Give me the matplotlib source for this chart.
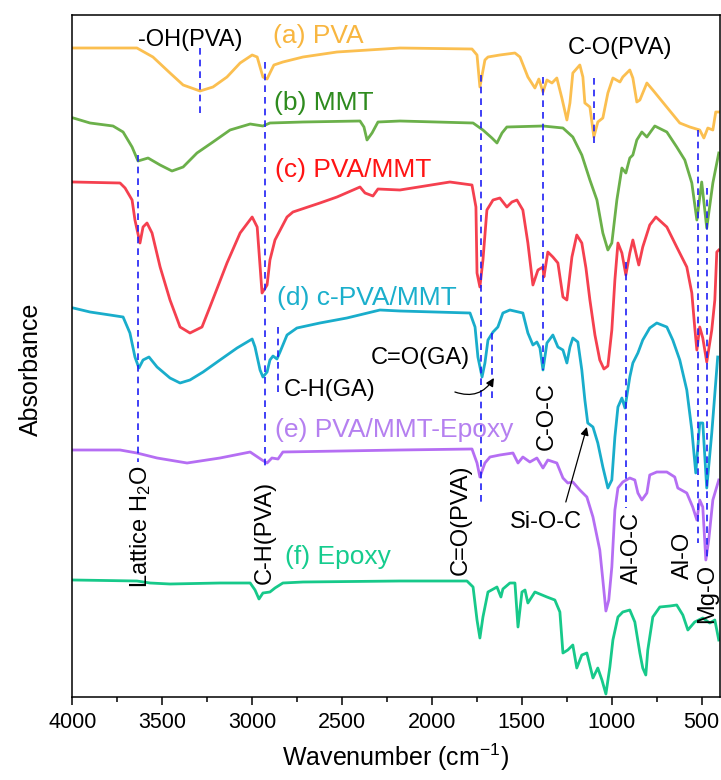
"""
FTIR absorbance spectra of PVA, MMT and their composites (stacked, offset).
"""

import matplotlib
matplotlib.use("Agg")
import matplotlib.pyplot as plt

# ---------------------------------------------------------------------------
# Data (wavenumber in cm-1, absorbance in offset a.u.)
# ---------------------------------------------------------------------------

pva_wn = [3995, 3641, 3552, 3457, 3384, 3290, 3218, 3140, 3067, 3000, 2972, 2956, 2940,
          2917, 2901, 2879, 2829, 2717, 2528, 2178, 1777, 1749, 1733, 1705, 1688, 1622,
          1538, 1510, 1466, 1427, 1405, 1382, 1360, 1332, 1305, 1277, 1249, 1232, 1216,
          1177, 1160, 1149, 1121, 1099, 1077, 1049, 1021, 993, 954, 938, 899, 882, 860,
          843, 804, 771, 621, 565, 510, 487, 465, 437, 421, 404]
pva_abs = [6.49, 6.49, 6.40, 6.24, 6.12, 6.06, 6.10, 6.20, 6.34, 6.42, 6.40, 6.30, 6.20,
           6.18, 6.24, 6.32, 6.35, 6.40, 6.45, 6.49, 6.48, 6.42, 6.10, 6.37, 6.40, 6.42,
           6.44, 6.40, 6.20, 6.09, 6.18, 6.05, 6.17, 6.14, 6.19, 5.99, 5.77, 5.94, 6.24,
           6.32, 6.20, 5.94, 5.90, 5.60, 5.75, 5.79, 6.04, 6.19, 6.15, 6.20, 6.27, 6.19, 5.95,
           5.97, 6.14, 6.07, 5.74, 5.70, 5.67, 5.59, 5.69, 5.67, 5.85, 5.85]

mmt_wn = [3995, 3902, 3774, 3718, 3668, 3635, 3579, 3512, 3446, 3384, 3307, 3218, 3123,
          3011, 2940, 2901, 2717, 2400, 2378, 2361, 2333, 2300, 2178, 1771, 1716, 1666,
          1638, 1610, 1583, 1382, 1271, 1216, 1166, 1121, 1082, 1049, 1021, 999, 971, 943,
          921, 899, 882, 860, 832, 804, 760, 693, 638, 593, 554, 526, 499, 471, 437, 404]
mmt_abs = [5.79, 5.74, 5.71, 5.65, 5.50, 5.36, 5.39, 5.32, 5.26, 5.30, 5.44, 5.55, 5.67,
           5.73, 5.71, 5.74, 5.75, 5.76, 5.70, 5.57, 5.64, 5.75, 5.76, 5.74, 5.67, 5.59,
           5.54, 5.64, 5.70, 5.71, 5.69, 5.60, 5.42, 5.17, 4.97, 4.64, 4.47, 4.54, 4.97, 5.29,
           5.24, 5.39, 5.42, 5.57, 5.65, 5.60, 5.71, 5.65, 5.50, 5.37, 5.14, 4.77, 5.15, 4.69,
           5.14, 5.44]

pva_mmt_wn = [3995, 3735, 3707, 3668, 3652, 3624, 3607, 3585, 3557, 3512, 3457, 3401, 3346,
              3279, 3235, 3140, 3067, 3000, 2972, 2945, 2917, 2901, 2873, 2806, 2773, 2623,
              2528, 2400, 2372, 2328, 2300, 2178, 1900, 1777, 1755, 1749, 1733, 1716, 1694,
              1660, 1622, 1583, 1555, 1527, 1494, 1466, 1438, 1410, 1382, 1377, 1355, 1327,
              1299, 1271, 1249, 1221, 1194, 1166, 1143, 1121, 1093, 1066, 1043, 1021, 999,
              982, 965, 943, 921, 899, 882, 860, 849, 827, 788, 754, 693, 638, 582, 554, 538,
              526, 510, 493, 471, 443, 426, 415, 404]
pva_mmt_abs = [5.15, 5.14, 5.09, 4.97, 4.77, 4.54, 4.70, 4.74, 4.64, 4.30, 3.97, 3.70, 3.64,
               3.70, 3.90, 4.34, 4.64, 4.80, 4.70, 4.04, 4.12, 4.37, 4.57, 4.80, 4.85, 4.94,
               5.00, 5.10, 5.04, 5.01, 5.08, 5.07, 5.15, 5.12, 4.90, 4.24, 4.10, 4.37, 4.87,
               4.97, 4.99, 4.90, 4.95, 4.97, 4.87, 4.54, 4.12, 4.27, 4.30, 4.20, 4.45, 4.40,
               4.34, 4.00, 3.97, 4.40, 4.62, 4.54, 4.29, 3.97, 3.62, 3.37, 3.28, 3.31, 3.67,
               4.17, 4.54, 4.44, 4.22, 4.44, 4.57, 4.40, 4.32, 4.50, 4.72, 4.80, 4.70, 4.50,
               4.30, 4.04, 3.70, 3.47, 3.70, 3.59, 3.35, 3.67, 3.97, 4.45, 4.47]

cpva_mmt_wn = [3995, 3902, 3791, 3718, 3680, 3652, 3630, 3607, 3574, 3529, 3457, 3401, 3346,
               3273, 3179, 3084, 3000, 2984, 2956, 2940, 2917, 2901, 2884, 2862, 2845, 2806,
               2751, 2623, 2473, 2289, 2178, 1788, 1760, 1744, 1721, 1705, 1688, 1660, 1633,
               1605, 1566, 1494, 1466, 1438, 1416, 1399, 1382, 1360, 1327, 1299, 1271, 1249,
               1232, 1216, 1188, 1166, 1149, 1133, 1104, 1077, 1049, 1021, 999, 982, 965, 943,
               926, 899, 882, 854, 827, 788, 749, 693, 660, 621, 582, 554, 532, 510, 493, 471,
               443, 410]
cpva_mmt_abs = [3.89, 3.85, 3.82, 3.80, 3.64, 3.40, 3.29, 3.37, 3.40, 3.30, 3.19, 3.14, 3.17,
                3.25, 3.37, 3.49, 3.58, 3.50, 3.27, 3.20, 3.25, 3.37, 3.41, 3.38, 3.45, 3.62,
                3.69, 3.74, 3.79, 3.87, 3.86, 3.84, 3.70, 3.40, 3.20, 3.34, 3.57, 3.65, 3.70,
                3.84, 3.87, 3.84, 3.64, 3.52, 3.55, 3.49, 3.27, 3.54, 3.62, 3.50, 3.47, 3.34,
                3.50, 3.59, 3.55, 3.27, 2.97, 2.74, 2.70, 2.54, 2.30, 2.09, 2.17, 2.60, 2.90, 2.99,
                2.89, 3.20, 3.34, 3.44, 3.57, 3.69, 3.74, 3.70, 3.57, 3.37, 3.07, 2.67, 2.24,
                2.74, 2.74, 2.09, 2.64, 3.40]

epoxy_comp_wn = [3995, 3735, 3641, 3529, 3362, 3179, 3011, 2945, 2917, 2890, 2856, 2829,
                 2178, 1777, 1749, 1733, 1705, 1677, 1622, 1549, 1521, 1494, 1455, 1416, 1382,
                 1355, 1305, 1271, 1244, 1216, 1177, 1138, 1104, 1066, 1049, 1032, 1016, 999,
                 982, 965, 938, 899, 871, 854, 832, 804, 788, 749, 693, 649, 632, 582, 549, 526,
                 510, 493, 476, 460, 437, 404]
epoxy_comp_abs = [2.47, 2.47, 2.44, 2.39, 2.34, 2.39, 2.45, 2.37, 2.34, 2.39, 2.38, 2.45,
                  2.47, 2.48, 2.34, 2.20, 2.34, 2.40, 2.42, 2.44, 2.34, 2.40, 2.35, 2.39, 2.29,
                  2.37, 2.34, 2.19, 2.14, 2.15, 2.07, 2.00, 1.80, 1.47, 1.17, 0.86, 0.97, 1.30,
                  1.87, 2.09, 2.15, 2.19, 2.17, 2.04, 1.97, 2.04, 2.22, 2.25, 2.25, 2.20, 2.09,
                  2.04, 1.90, 1.77, 1.97, 1.90, 1.37, 1.57, 1.97, 2.17]

epoxy_wn = [3995, 3641, 3568, 3457, 3179, 3011, 2984, 2962, 2940, 2901, 2873, 2829, 2717,
            2178, 1805, 1771, 1749, 1733, 1716, 1688, 1638, 1616, 1605, 1566, 1538, 1521,
            1499, 1482, 1466, 1427, 1360, 1316, 1288, 1271, 1244, 1216, 1194, 1166, 1138,
            1104, 1077, 1054, 1032, 1010, 993, 965, 938, 899, 871, 843, 827, 810, 799, 771,
            732, 676, 638, 604, 576, 538, 493, 454, 426, 404]
epoxy_abs = [1.17, 1.16, 1.14, 1.13, 1.14, 1.14, 1.07, 0.98, 1.04, 1.05, 1.09, 1.14, 1.15,
             1.16, 1.16, 1.10, 0.77, 0.59, 0.80, 1.05, 1.10, 1.00, 1.08, 1.14, 1.14, 0.70,
             1.05, 1.07, 0.94, 1.05, 1.00, 0.97, 0.85, 0.44, 0.47, 0.52, 0.29, 0.42, 0.44,
             0.19, 0.29, 0.17, 0.03, 0.30, 0.57, 0.80, 0.85, 0.87, 0.75, 0.44, 0.29, 0.22, 0.47,
             0.80, 0.90, 0.91, 0.92, 0.82, 0.67, 0.75, 0.79, 0.74, 0.77, 0.57]

# peak assignment guide lines: wavenumber, top, bottom
peak_wn = [3290, 2929, 3635, 2856, 1727, 1666, 1382, 1099, 922, 522, 471]
peak_top = [6.49, 6.35, 5.42, 3.70, 6.22, 3.64, 6.20, 6.19, 4.35, 5.67, 5.09]
peak_bottom = [5.80, 2.27, 2.35, 3.04, 1.94, 2.94, 3.27, 5.50, 1.89, 1.54, 1.37]

series_names = ["(a) PVA", "(b) MMT", "(c) PVA/MMT", "(d) c-PVA/MMT",
                "(e) PVA/MMT-Epoxy", "(f) Epoxy"]

# ---------------------------------------------------------------------------
# Plotting
# ---------------------------------------------------------------------------

def main():
    plt.rcParams.update({
        "font.family": ["Liberation Sans", "DejaVu Sans"],
        "mathtext.default": "regular",
        "axes.linewidth": 1.1,
    })

    fig = plt.figure(figsize=(7.21, 7.80), dpi=100)
    ax = fig.add_axes([72.4 / 721, 83 / 780, 647.1 / 721, 682 / 780])

    spectra = [
        (pva_wn, pva_abs, "#FBBF50", "#F8B640"),
        (mmt_wn, mmt_abs, "#6BB04A", "#2E8B1E"),
        (pva_mmt_wn, pva_mmt_abs, "#F5404F", "#FF1414"),
        (cpva_mmt_wn, cpva_mmt_abs, "#19ADCB", "#1BAFCC"),
        (epoxy_comp_wn, epoxy_comp_abs, "#B56EF3", "#B580F0"),
        (epoxy_wn, epoxy_abs, "#17C98A", "#16CC8E"),
    ]
    # label anchors (left edge, centre line)
    label_pos = [(2885, 6.61), (2879, 5.94), (2873, 5.27), (2862, 3.99),
                 (2873, 2.67), (2818, 1.40)]

    for (wn, ab, c_line, c_text), name, (lx, ly) in zip(spectra, series_names, label_pos):
        ax.plot(wn, ab, color=c_line, lw=2.0, solid_joinstyle="round")
        ax.text(lx, ly, name, color=c_text, fontsize=19, ha="left", va="center")

    for x, y0, y1 in zip(peak_wn, peak_top, peak_bottom):
        ax.plot([x, x], [y0, y1], color="#1F1FF5", lw=1.2, ls=(0, (4, 3)))

    # assignments
    txt = dict(fontsize=17, color="black", ha="center", va="center")
    ax.text(3346, 6.57, "-OH(PVA)", **txt)
    ax.text(954, 6.49, "C-O(PVA)", **txt)
    ax.text(2823, 3.07, "C-H(GA)", fontsize=17, ha="left", va="center")
    ax.text(2067, 3.39, "C=O(GA)", **txt)
    ax.text(1366, 1.75, "Si-O-C", **txt)
    ax.text(3619, 1.70, "Lattice H$_2$O", rotation=90, **txt)
    ax.text(2929, 1.65, "C-H(PVA)", rotation=90, **txt)
    ax.text(1838, 1.77, "C=O(PVA)", rotation=90, **txt)
    ax.text(1360, 2.81, "C-O-C", rotation=90, **txt)
    ax.text(888, 1.49, "Al-O-C", rotation=90, **txt)
    ax.text(604, 1.42, "Al-O", rotation=90, **txt)
    ax.text(471, 1.04, "Mg-O", rotation=90, **txt)

    ax.annotate("", xy=(1655, 3.19), xytext=(1872, 3.05),
                arrowprops=dict(arrowstyle="-|>", color="black", lw=0.9,
                                mutation_scale=12, shrinkA=0, shrinkB=0,
                                connectionstyle="arc3,rad=0.4"))
    ax.annotate("", xy=(1138, 2.70), xytext=(1255, 1.95),
                arrowprops=dict(arrowstyle="-|>", color="black", lw=0.9,
                                mutation_scale=12, shrinkA=0, shrinkB=0))

    ax.set_xlim(4000, 400)
    ax.set_ylim(0, 6.82)
    ax.set_xticks([4000, 3500, 3000, 2500, 2000, 1500, 1000, 500])
    ax.set_xticks([3750, 3250, 2750, 2250, 1750, 1250, 750], minor=True)
    ax.set_yticks([])
    ax.tick_params(axis="x", which="major", direction="out", length=6, width=1.1,
                   labelsize=15.5, pad=5)
    ax.tick_params(axis="x", which="minor", direction="out", length=3.5, width=1.1)
    ax.set_xlabel("Wavenumber (cm$^{-1}$)", fontsize=18, labelpad=6)
    ax.set_ylabel("Absorbance", fontsize=18)
    ax.yaxis.set_label_coords(-0.045, 0.48)

    fig.savefig("out.png", dpi=100)
    plt.close(fig)


if __name__ == "__main__":
    main()
